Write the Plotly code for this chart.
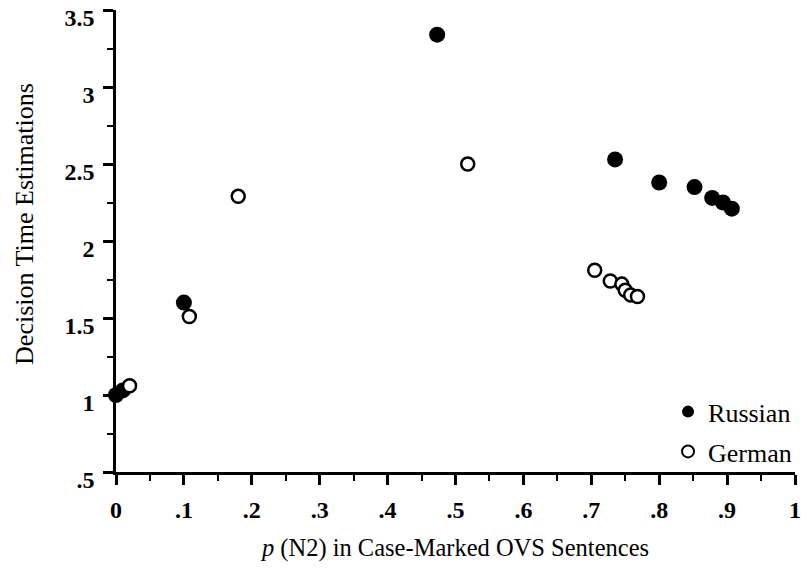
import plotly.graph_objects as go

russian_x = [0.0, 0.01, 0.10, 0.473, 0.735, 0.80, 0.852, 0.878, 0.894, 0.907]
russian_y = [1.00, 1.03, 1.60, 3.34, 2.53, 2.38, 2.35, 2.28, 2.25, 2.21]

german_x = [0.02, 0.108, 0.18, 0.518, 0.705, 0.728, 0.745, 0.750, 0.758, 0.768]
german_y = [1.06, 1.51, 2.29, 2.50, 1.81, 1.74, 1.72, 1.68, 1.65, 1.64]

x_tickvals = [0, 0.1, 0.2, 0.3, 0.4, 0.5, 0.6, 0.7, 0.8, 0.9, 1.0]
x_ticktext = ["0", ".1", ".2", ".3", ".4", ".5", ".6", ".7", ".8", ".9", "1"]
y_tickvals = [0.5, 1.0, 1.5, 2.0, 2.5, 3.0, 3.5]
y_ticktext = [".5", "1", "1.5", "2", "2.5", "3", "3.5"]

serif = "Liberation Serif"

fig = go.Figure()
fig.add_trace(go.Scatter(
    x=russian_x, y=russian_y, mode="markers", name="Russian",
    legendgroup="r",
    marker=dict(symbol="circle", size=16, color="black", line=dict(width=0)),
    cliponaxis=False,
))
fig.add_trace(go.Scatter(
    x=german_x, y=german_y, mode="markers", name="German",
    legendgroup="g",
    marker=dict(symbol="circle", size=13, color="white", line=dict(width=2.5, color="black")),
    cliponaxis=False,
))

axis_common = dict(
    showgrid=False, zeroline=False, showline=True, linecolor="black", linewidth=2.5,
    ticks="outside", tickcolor="black", tickwidth=2.5, ticklen=10,
    tickfont=dict(family=serif, size=24, color="black", weight="bold"),
    ticklabeloverflow="allow", automargin=False,
)

fig.update_xaxes(
    range=[0, 1], tickvals=x_tickvals, ticktext=x_ticktext,
    ticklabelstandoff=4,
    minor=dict(dtick=0.05, ticklen=6, tickwidth=2, tickcolor="black", ticks="outside", showgrid=False),
    title=dict(text="<i>p</i> (N2) in Case-Marked OVS Sentences",
               font=dict(family=serif, size=24.5, color="black"), standoff=18),
    **axis_common,
)
fig.update_yaxes(
    range=[0.5, 3.5], tickvals=y_tickvals, ticktext=y_ticktext,
    ticklabelshift=8, ticklabelstandoff=4,
    minor=dict(dtick=0.25, ticklen=6, tickwidth=2, tickcolor="black", ticks="outside", showgrid=False),
    **axis_common,
)

fig.add_annotation(
    text="Decision Time Estimations", textangle=-90,
    xref="paper", yref="paper", x=0, y=0.537, xanchor="center", yanchor="middle",
    xshift=-91, showarrow=False,
    font=dict(family=serif, size=26, color="black"),
)

fig.update_layout(
    width=801, height=576,
    margin=dict(l=116, r=6, t=10, b=104, autoexpand=False),
    paper_bgcolor="white", plot_bgcolor="white",
    showlegend=True,
    legend=dict(
        xref="container", yref="container",
        x=0.834, y=0.326, xanchor="left", yanchor="top",
        bgcolor="rgba(0,0,0,0)", font=dict(family=serif, size=26, color="black"),
        traceorder="grouped", tracegroupgap=3, itemsizing="constant",
    ),
)

fig.write_html("out.html")
